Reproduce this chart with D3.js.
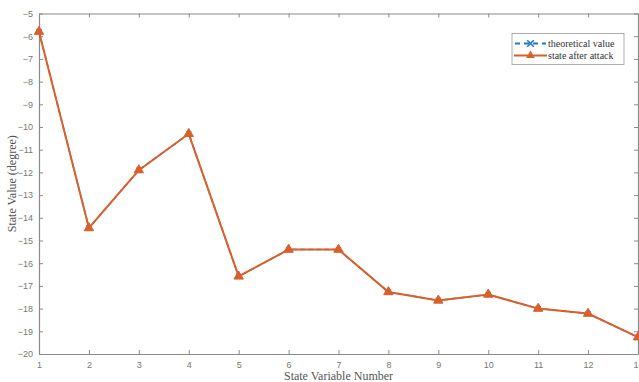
<!DOCTYPE html>
<html>
<head>
<meta charset="utf-8">
<script src="https://cdn.jsdelivr.net/npm/d3@7"></script>
<style>
  body { margin: 0; background: #fff; }
  svg { display: block; }
</style>
</head>
<body>
<div id="chart"></div>
<script>
let xValues = [1, 2, 3, 4, 5, 6, 7, 8, 9, 10, 11, 12, 13];
let theoretical = [-5.8, -14.45, -11.9, -10.3, -16.58, -15.4, -15.4, -17.27, -17.64, -17.38, -18.0, -18.22, -19.26];
let afterAttack = [-5.8, -14.45, -11.9, -10.3, -16.58, -15.4, -15.4, -17.27, -17.64, -17.38, -18.0, -18.22, -19.26];
let yTicks = [-5, -6, -7, -8, -9, -10, -11, -12, -13, -14, -15, -16, -17, -18, -19, -20];
let legendLabels = ["theoretical value", "state after attack"];

var width = 639, height = 382;
var margin = { top: 13.5, right: 1, bottom: 28, left: 39 };
var w = width - margin.left - margin.right,
    h = height - margin.top - margin.bottom;

var blue = "#1f78c8", orange = "#d95f2b", axisCol = "#8a8a8a";

var svg = d3.select("#chart").append("svg")
  .attr("width", width).attr("height", height);

var g = svg.append("g")
  .attr("transform", "translate(" + margin.left + "," + margin.top + ")");

var x = d3.scaleLinear().domain([1, 13]).range([0, w]);
var y = d3.scaleLinear().domain([-20, -5]).range([h, 0]);

// axes with inward ticks, box style
function styleAxis(sel, showText) {
  sel.select(".domain").attr("stroke", axisCol).attr("stroke-width", 1.2);
  sel.selectAll(".tick line").attr("stroke", axisCol);
  sel.selectAll(".tick text")
    .attr("fill", "#777")
    .style("font-family", "Liberation Sans, Arial, sans-serif")
    .style("font-size", "9px");
  if (!showText) sel.selectAll(".tick text").remove();
}

g.append("g").attr("transform", "translate(0," + h + ")")
  .call(d3.axisBottom(x).tickValues(xValues).tickSize(-4).tickPadding(8).tickSizeOuter(0))
  .call(s => styleAxis(s, true));
g.append("g")
  .call(d3.axisTop(x).tickValues(xValues).tickSize(-4).tickSizeOuter(0))
  .call(s => styleAxis(s, false));
g.append("g")
  .call(d3.axisLeft(y).tickValues(yTicks).tickSize(-4).tickPadding(6).tickSizeOuter(0).tickFormat(d3.format("d")))
  .call(s => styleAxis(s, true));
g.append("g").attr("transform", "translate(" + w + ",0)")
  .call(d3.axisRight(y).tickValues(yTicks).tickSize(-4).tickSizeOuter(0))
  .call(s => styleAxis(s, false));

var line = d3.line().x((d, i) => x(xValues[i])).y(d => y(d));

// theoretical (underneath, mostly hidden by the attack series)
g.append("path").datum(theoretical)
  .attr("fill", "none").attr("stroke", blue).attr("stroke-width", 1.5)
  .attr("stroke-dasharray", "5,3").attr("d", line);
g.selectAll(".xm").data(theoretical).enter().append("path")
  .attr("transform", (d, i) => "translate(" + x(xValues[i]) + "," + y(d) + ")")
  .attr("d", d3.symbol(d3.symbolX, 18))
  .attr("stroke", blue).attr("stroke-width", 1.2).attr("fill", "none");

// state after attack
g.append("path").datum(afterAttack)
  .attr("fill", "none").attr("stroke", orange).attr("stroke-width", 2)
  .attr("d", line);
g.selectAll(".tri").data(afterAttack).enter().append("path")
  .attr("transform", (d, i) => "translate(" + x(xValues[i]) + "," + y(d) + ")")
  .attr("d", d3.symbol(d3.symbolTriangle, 38))
  .attr("fill", orange).attr("stroke", orange).attr("stroke-width", 1);

// axis labels
svg.append("text")
  .attr("x", margin.left + w / 2).attr("y", 380)
  .attr("text-anchor", "middle")
  .attr("fill", "#555")
  .style("font-family", "Liberation Serif, Times New Roman, serif")
  .style("font-size", "12px")
  .text("State Variable Number");

svg.append("text")
  .attr("transform", "translate(16," + (margin.top + h / 2) + ") rotate(-90)")
  .attr("text-anchor", "middle")
  .attr("fill", "#555")
  .style("font-family", "Liberation Serif, Times New Roman, serif")
  .style("font-size", "12px")
  .text("State Value (degree)");

// legend
var lg = svg.append("g").attr("transform", "translate(512,33.5)");
lg.append("rect").attr("width", 112).attr("height", 31)
  .attr("fill", "#fff").attr("stroke", "#999").attr("stroke-width", 0.8);

lg.append("line").attr("x1", 3).attr("x2", 34).attr("y1", 10).attr("y2", 10)
  .attr("stroke", blue).attr("stroke-width", 1.8).attr("stroke-dasharray", "5,4");
lg.append("path").attr("transform", "translate(18.5,10)")
  .attr("d", d3.symbol(d3.symbolX, 30))
  .attr("stroke", blue).attr("stroke-width", 1.5);
lg.append("line").attr("x1", 2).attr("x2", 35).attr("y1", 22).attr("y2", 22)
  .attr("stroke", orange).attr("stroke-width", 2);
lg.append("path").attr("transform", "translate(18.5,22)")
  .attr("d", d3.symbol(d3.symbolTriangle, 32))
  .attr("fill", orange);

lg.selectAll(".lt").data(legendLabels).enter().append("text")
  .attr("x", 36).attr("y", (d, i) => 13.5 + i * 12)
  .attr("fill", "#333")
  .style("font-family", "Liberation Serif, Times New Roman, serif")
  .style("font-size", "10px")
  .text(d => d);
</script>
</body>
</html>
